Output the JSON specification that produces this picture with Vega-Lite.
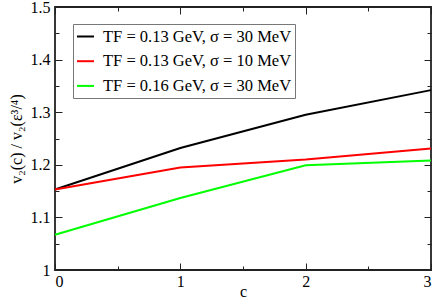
{
  "$schema": "https://vega.github.io/schema/vega-lite/v6.json",
  "width": 376,
  "height": 263,
  "autosize": "none",
  "padding": {"left": 55, "top": 7, "right": 5, "bottom": 29},
  "config": {
    "view": {"stroke": "#222", "strokeWidth": 1.8},
    "font": "Liberation Serif",
    "axis": {"grid": false, "domain": false, "tickColor": "#222", "tickWidth": 1, "labelColor": "#000", "titleColor": "#000", "labelFont": "Liberation Serif", "titleFont": "Liberation Serif", "titleFontWeight": "normal"}
  },
  "data": {"values": [
    {"c": 0, "v": 1.153, "s": "TF = 0.13 GeV, σ = 30 MeV"},
    {"c": 1, "v": 1.232, "s": "TF = 0.13 GeV, σ = 30 MeV"},
    {"c": 2, "v": 1.295, "s": "TF = 0.13 GeV, σ = 30 MeV"},
    {"c": 3, "v": 1.342, "s": "TF = 0.13 GeV, σ = 30 MeV"},
    {"c": 0, "v": 1.153, "s": "TF = 0.13 GeV, σ = 10 MeV"},
    {"c": 1, "v": 1.195, "s": "TF = 0.13 GeV, σ = 10 MeV"},
    {"c": 2, "v": 1.210, "s": "TF = 0.13 GeV, σ = 10 MeV"},
    {"c": 3, "v": 1.231, "s": "TF = 0.13 GeV, σ = 10 MeV"},
    {"c": 0, "v": 1.067, "s": "TF = 0.16 GeV, σ = 30 MeV"},
    {"c": 1, "v": 1.137, "s": "TF = 0.16 GeV, σ = 30 MeV"},
    {"c": 2, "v": 1.199, "s": "TF = 0.16 GeV, σ = 30 MeV"},
    {"c": 3, "v": 1.208, "s": "TF = 0.16 GeV, σ = 30 MeV"}
  ]},
  "layer": [
    {
      "mark": {"type": "line", "strokeWidth": 2},
      "encoding": {
        "x": {"field": "c", "type": "quantitative", "scale": {"domain": [0, 3], "nice": false},
              "axis": {"orient": "bottom", "values": [0, 1, 2, 3], "tickSize": -7, "labelPadding": 10, "labelFontSize": 16, "title": "c", "titleFontSize": 16, "titleY": 26, "titleBaseline": "alphabetic"}},
        "y": {"field": "v", "type": "quantitative", "scale": {"domain": [1, 1.5], "nice": false, "zero": false},
              "axis": {"orient": "left", "values": [1, 1.1, 1.2, 1.3, 1.4, 1.5], "format": ".1~f", "tickSize": -7, "labelPadding": 12, "labelFontSize": 16, "title": "v₂(c) / v₂(ε³/⁴)", "titleFontSize": 16, "titlePadding": 6}},
        "color": {"field": "s", "type": "nominal",
                  "scale": {"domain": ["TF = 0.13 GeV, σ = 30 MeV", "TF = 0.13 GeV, σ = 10 MeV", "TF = 0.16 GeV, σ = 30 MeV"], "range": ["#000000", "#ff0000", "#00ff00"]},
                  "legend": {"orient": "none", "legendX": 18, "legendY": 17, "title": null, "strokeColor": "#777", "fillColor": "#fff", "padding": 3, "labelFont": "Liberation Serif", "labelFontSize": 16.5, "labelColor": "#000", "labelOffset": 8, "symbolType": "stroke", "symbolStrokeWidth": 2, "symbolSize": 289, "rowPadding": 6.7, "labelLimit": 0}}
      }
    },
    {
      "mark": {"type": "line", "opacity": 0},
      "encoding": {
        "x": {"field": "c", "type": "quantitative", "scale": {"domain": [0, 3], "nice": false},
              "axis": {"orient": "bottom", "values": [0.5, 1.5, 2.5], "tickSize": -4, "labels": false, "title": null}},
        "y": {"field": "v", "type": "quantitative", "scale": {"domain": [1, 1.5], "nice": false, "zero": false},
              "axis": {"orient": "left", "values": [1.05, 1.15, 1.25, 1.35, 1.45], "tickSize": -4, "labels": false, "title": null}},
        "detail": {"field": "s"}
      }
    },
    {
      "mark": {"type": "line", "opacity": 0},
      "encoding": {
        "x": {"field": "c", "type": "quantitative", "scale": {"domain": [0, 3], "nice": false},
              "axis": {"orient": "top", "values": [0, 1, 2, 3], "tickSize": -7, "labels": false, "title": null}},
        "y": {"field": "v", "type": "quantitative", "scale": {"domain": [1, 1.5], "nice": false, "zero": false},
              "axis": {"orient": "right", "values": [1, 1.1, 1.2, 1.3, 1.4, 1.5], "tickSize": -7, "labels": false, "title": null}},
        "detail": {"field": "s"}
      }
    },
    {
      "mark": {"type": "line", "opacity": 0},
      "encoding": {
        "x": {"field": "c", "type": "quantitative", "scale": {"domain": [0, 3], "nice": false},
              "axis": {"orient": "top", "values": [0.5, 1.5, 2.5], "tickSize": -4, "labels": false, "title": null}},
        "y": {"field": "v", "type": "quantitative", "scale": {"domain": [1, 1.5], "nice": false, "zero": false},
              "axis": {"orient": "right", "values": [1.05, 1.15, 1.25, 1.35, 1.45], "tickSize": -4, "labels": false, "title": null}},
        "detail": {"field": "s"}
      }
    }
  ],
  "resolve": {"axis": {"x": "independent", "y": "independent"}}
}
